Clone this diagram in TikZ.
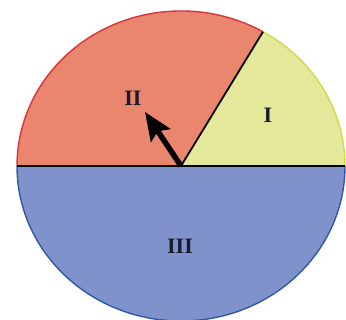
\documentclass[tikz,border=0pt]{standalone}
\usepackage{fontspec}
\setmainfont{Liberation Serif}
\usepackage{tikz}
\usetikzlibrary{arrows.meta,calc}
\definecolor{cRedF}{HTML}{E9866D}
\definecolor{cRedL}{HTML}{D8343A}
\definecolor{cYelF}{HTML}{E3E89B}
\definecolor{cYelL}{HTML}{D2DA45}
\definecolor{cBluF}{HTML}{7F92CB}
\definecolor{cBluL}{HTML}{2F5AA2}
\definecolor{cInk}{HTML}{1A1A2A}
\tikzset{
  rim/.style    = {line width=1.4pt},
  cut/.style    = {draw=black, line width=1.8pt},
  lbl/.style    = {font=\bfseries\fontsize{22}{24}\selectfont, text=cInk},
  pointer/.style= {-{Stealth[length=28pt,width=23pt,inset=5pt]}, line width=5.5pt, draw=black},
}
\begin{document}
\begin{tikzpicture}[x=1pt, y=1pt]
  \useasboundingbox (0,0) rectangle (346,320);
  % centre and rim points
  \coordinate (O) at (181,154);
  \coordinate (P) at ($(O)+(60:164 and 155)$);
  \coordinate (L) at ($(O)+(-164,0)$);
  \coordinate (R) at ($(O)+(164,0)$);
  \coordinate (T) at (145,208);
  % sectors
  \fill[cBluF] (L) arc[start angle=180, end angle=360, x radius=164pt, y radius=155pt] -- cycle;
  \draw[rim, cBluL] (L) arc[start angle=180, end angle=360, x radius=164pt, y radius=155pt];
  \fill[cRedF] (O) -- (P) arc[start angle=60, end angle=180, x radius=164pt, y radius=155pt] -- cycle;
  \draw[rim, cRedL] (P) arc[start angle=60, end angle=180, x radius=164pt, y radius=155pt];
  \fill[cYelF] (O) -- (R) arc[start angle=0, end angle=60, x radius=164pt, y radius=155pt] -- cycle;
  \draw[rim, cYelL] (R) arc[start angle=0, end angle=60, x radius=164pt, y radius=155pt];
  % dividing lines
  \draw[cut] (L) -- (R);
  \draw[cut] (O) -- (P);
  % pointer
  \draw[pointer] (O) -- (T);
  % labels
  \node[lbl] (s1) at (268,205) {I};
  \node[lbl] (s2) at (133,222) {II};
  \node[lbl] (s3) at (180,74)  {III};
\end{tikzpicture}
\end{document}
